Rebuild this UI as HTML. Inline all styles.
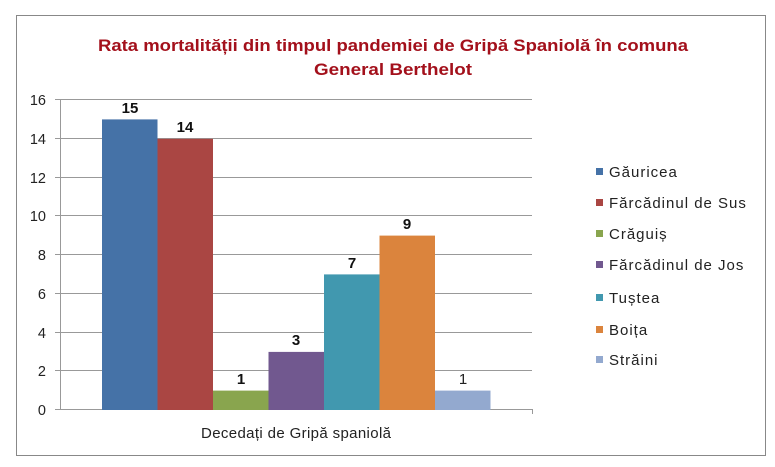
<!DOCTYPE html>
<html><head><meta charset="utf-8"><style>body{margin:0;background:#fff}svg{display:block}</style></head>
<body>
<svg width="775" height="467" xmlns="http://www.w3.org/2000/svg" font-family="Liberation Sans, sans-serif">
<rect x="16.5" y="15.5" width="749" height="440" fill="#fff" stroke="#888" stroke-width="1"/>
<text x="393" y="51" text-anchor="middle" font-size="17" font-weight="bold" fill="#a3101b" textLength="590" lengthAdjust="spacingAndGlyphs">Rata mortalității din timpul pandemiei de Gripă Spaniolă în comuna</text>
<text x="393" y="75" text-anchor="middle" font-size="17" font-weight="bold" fill="#a3101b" textLength="158" lengthAdjust="spacingAndGlyphs">General Berthelot</text>
<g stroke="#999" stroke-width="1">
<line x1="55" y1="99.5" x2="532" y2="99.5"/>
<line x1="55" y1="138.5" x2="532" y2="138.5"/>
<line x1="55" y1="177.5" x2="532" y2="177.5"/>
<line x1="55" y1="215.5" x2="532" y2="215.5"/>
<line x1="55" y1="254.5" x2="532" y2="254.5"/>
<line x1="55" y1="293.5" x2="532" y2="293.5"/>
<line x1="55" y1="332.5" x2="532" y2="332.5"/>
<line x1="55" y1="370.5" x2="532" y2="370.5"/>
<line x1="55" y1="409.5" x2="532" y2="409.5"/>
<line x1="60.5" y1="99" x2="60.5" y2="409"/>
<line x1="532.5" y1="409" x2="532.5" y2="414"/>
</g>
<g font-size="14.5" fill="#222" text-anchor="end">
<text x="46" y="105">16</text><text x="46" y="144">14</text><text x="46" y="183">12</text>
<text x="46" y="221">10</text><text x="46" y="260">8</text><text x="46" y="299">6</text>
<text x="46" y="338">4</text><text x="46" y="376">2</text><text x="46" y="415">0</text>
</g>
<rect x="102" y="119.4" width="55.5" height="290.6" fill="#4572a7"/>
<rect x="157.5" y="138.8" width="55.5" height="271.2" fill="#aa4643"/>
<rect x="213" y="390.6" width="55.5" height="19.4" fill="#89a54e"/>
<rect x="268.5" y="351.9" width="55.5" height="58.1" fill="#71588f"/>
<rect x="324" y="274.4" width="55.5" height="135.6" fill="#4198af"/>
<rect x="379.5" y="235.6" width="55.5" height="174.4" fill="#db843d"/>
<rect x="435" y="390.6" width="55.5" height="19.4" fill="#93a9cf"/>
<g font-size="15" font-weight="bold" fill="#111" text-anchor="middle">
<text x="130" y="113">15</text><text x="185" y="132">14</text><text x="241" y="384">1</text>
<text x="296" y="345">3</text><text x="352" y="268">7</text><text x="407" y="229">9</text>
</g>
<text x="463" y="384" font-size="15" fill="#222" text-anchor="middle">1</text>
<text x="296" y="438" font-size="15" fill="#222" text-anchor="middle" textLength="190" lengthAdjust="spacing">Decedați de Gripă spaniolă</text>
<g font-size="15" fill="#222" letter-spacing="1">
<rect x="596" y="168" width="7" height="7" fill="#4572a7"/><text x="609" y="177">Găuricea</text>
<rect x="596" y="199" width="7" height="7" fill="#aa4643"/><text x="609" y="208">Fărcădinul de Sus</text>
<rect x="596" y="230" width="7" height="7" fill="#89a54e"/><text x="609" y="239">Crăguiș</text>
<rect x="596" y="261" width="7" height="7" fill="#71588f"/><text x="609" y="270">Fărcădinul de Jos</text>
<rect x="596" y="294" width="7" height="7" fill="#4198af"/><text x="609" y="303">Tuștea</text>
<rect x="596" y="326" width="7" height="7" fill="#db843d"/><text x="609" y="335">Boița</text>
<rect x="596" y="356" width="7" height="7" fill="#93a9cf"/><text x="609" y="365">Străini</text>
</g>
</svg>
</body></html>
